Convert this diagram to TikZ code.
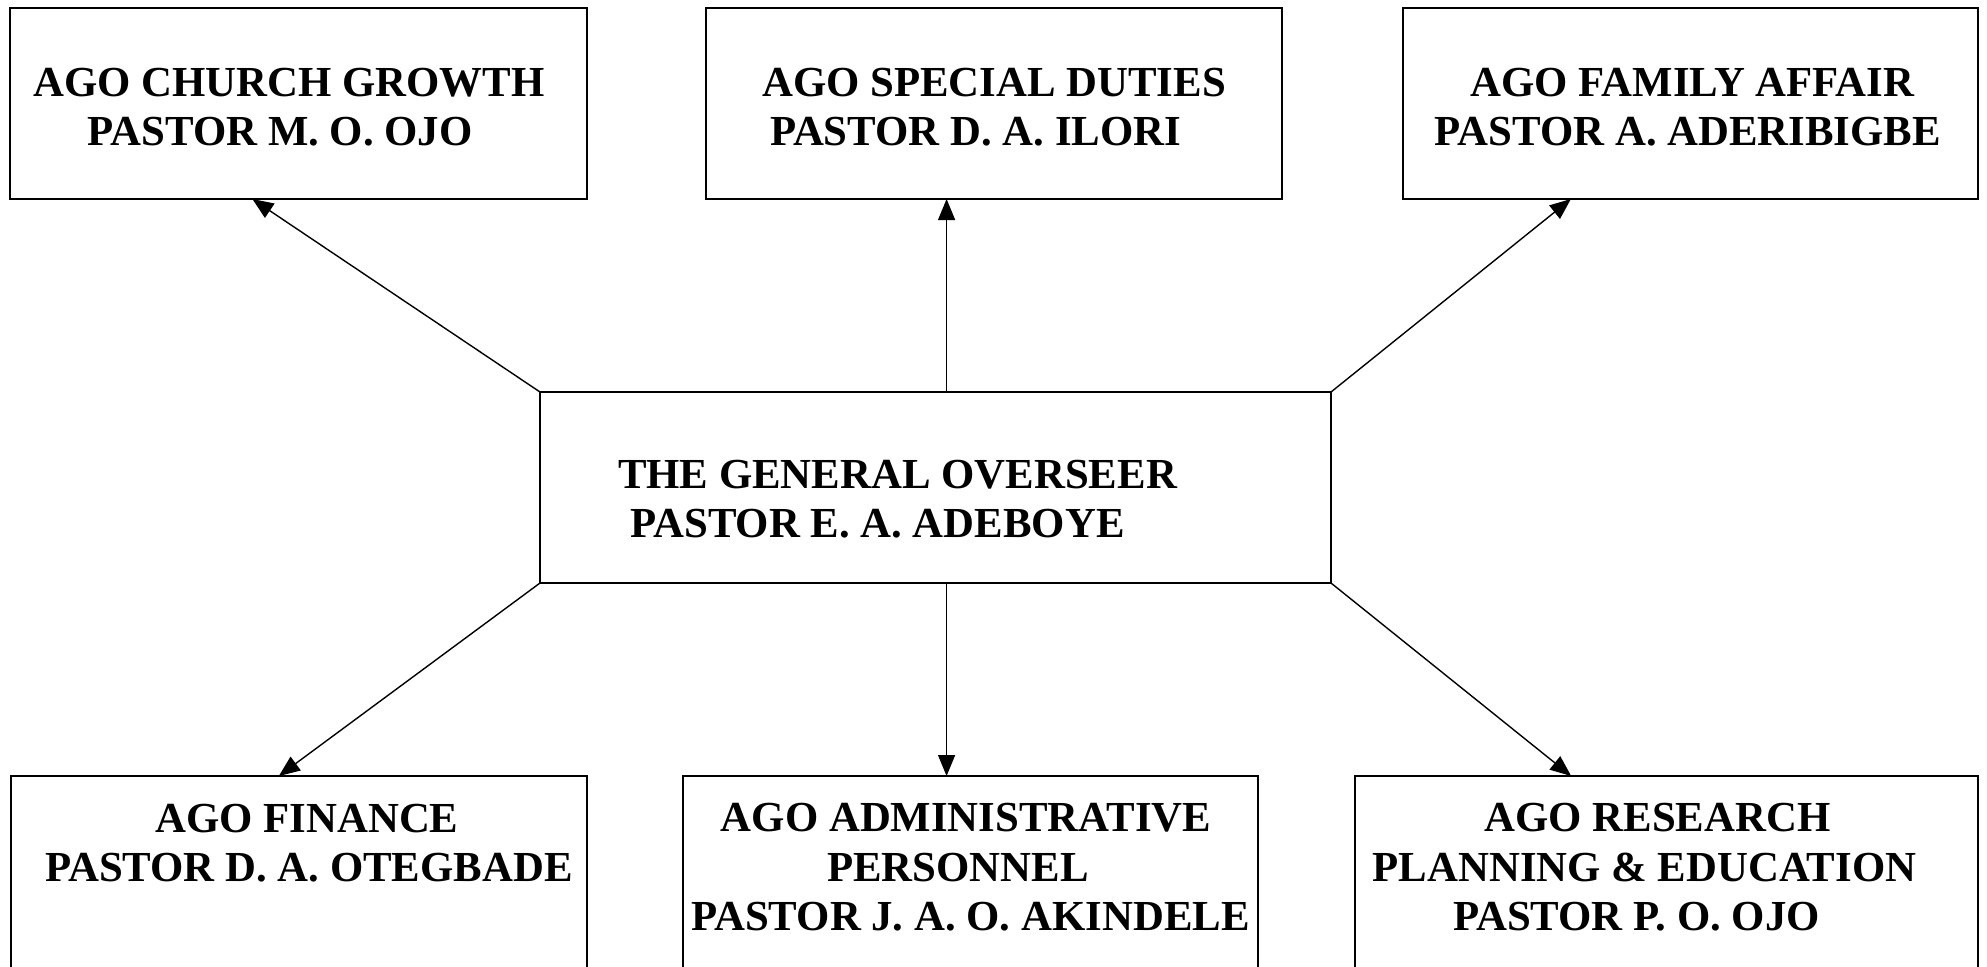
\documentclass[tikz,border=0pt]{standalone}
\usepackage{fontspec}
\setmainfont{Liberation Serif}
\usetikzlibrary{arrows.meta,calc}

% one line of a label, moved sideways by #1 (in pt of kern)
\newcommand\sline[2]{\makebox[0pt]{\kern#1pt\relax #2}}

\begin{document}
\begin{tikzpicture}[x=0.5pt,y=-0.5pt,
  unit/.style={draw,line width=1pt,inner sep=0pt,outer sep=0pt,rectangle},
  label/.style={align=center,inner sep=0pt,text depth=0pt,
    font=\fontsize{21.4pt}{24.7pt}\selectfont\bfseries},
  link/.style={line width=0.7pt,-{Triangle[length=10.5pt,width=8.5pt]}}]
\clip (0,0) rectangle (1987,966);

% boxes
\node[unit,minimum width=288.5pt,minimum height=95.5pt] (tl) at (298.5,103.5) {};
\node[unit,minimum width=288pt,minimum height=95.5pt] (tm) at (994,103.5) {};
\node[unit,minimum width=287.5pt,minimum height=95.5pt] (tr) at (1690.5,103.5) {};
\node[unit,minimum width=395.5pt,minimum height=95.5pt] (gen) at (935.5,487.5) {};
\node[unit,minimum width=288pt,minimum height=100pt] (bl) at (299,876) {};
\node[unit,minimum width=287.5pt,minimum height=100pt] (bm) at (970.5,876) {};
\node[unit,minimum width=311.5pt,minimum height=100pt] (br) at (1666.5,876) {};

% texts
\node[label] (ttl) at (298.5,107) {\sline{-9.5}{AGO CHURCH GROWTH}\\\sline{-18.4}{PASTOR M. O. OJO}};
\node[label] (ttm) at (994,107) {\sline{0}{AGO SPECIAL DUTIES}\\\sline{-18.4}{PASTOR D. A. ILORI}};
\node[label] (ttr) at (1690.5,107) {\sline{2}{AGO FAMILY AFFAIR}\\\sline{-2.5}{PASTOR A. ADERIBIGBE}};
\node[label] (tgen) at (935.5,499) {\sline{-38}{THE GENERAL OVERSEER}\\\sline{-58}{PASTOR E. A. ADEBOYE}};
\node[label] (tbl) at (299,843) {\sline{8}{AGO FINANCE}\\\sline{10}{PASTOR D. A. OTEGBADE}};
\node[label] (tbm) at (970.5,867) {\sline{-4.4}{AGO ADMINISTRATIVE}\\\sline{-12.7}{PERSONNEL}\\\sline{0}{PASTOR J. A. O. AKINDELE}};
\node[label] (tbr) at (1666.5,867) {\sline{-9}{AGO RESEARCH}\\\sline{-22}{PLANNING \& EDUCATION}\\\sline{-30}{PASTOR P. O. OJO}};

% connectors
\coordinate (gt) at ($(gen.north west)!0.514!(gen.north east)$);
\coordinate (gb) at ($(gen.south west)!0.514!(gen.south east)$);
\draw[link] (gen.north west) -- ($(tl.south west)!0.42!(tl.south east)$);
\draw[link] (gt) -- (gt |- tm.south);
\draw[link] (gen.north east) -- ($(tr.south west)!0.292!(tr.south east)$);
\draw[link] (gen.south west) -- ($(bl.north west)!0.465!(bl.north east)$);
\draw[link] (gb) -- (gb |- bm.north);
\draw[link] (gen.south east) -- ($(br.north west)!0.347!(br.north east)$);
\end{tikzpicture}
\end{document}
